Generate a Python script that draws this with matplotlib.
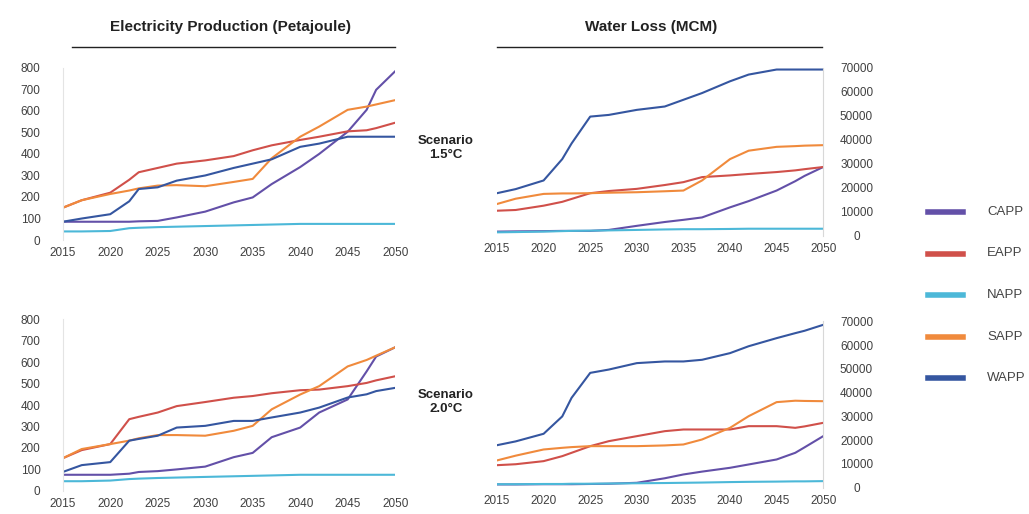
import matplotlib
matplotlib.use('Agg')
import matplotlib.pyplot as plt
from matplotlib.lines import Line2D

plt.rcParams['font.family'] = ['Liberation Sans', 'DejaVu Sans']

# x positions (years) of the read-off points
yrs = [2015, 2017, 2020, 2022, 2023, 2025, 2027, 2030, 2033, 2035, 2037,
       2040, 2042, 2045, 2047, 2048, 2050]

# electricity production, scenario 1.5C (PJ)
elec15_capp = [85, 85, 85, 85, 87, 89, 105, 132, 175, 198, 260, 339, 400, 503, 605, 698, 784]
elec15_eapp = [150, 185, 220, 280, 315, 335, 355, 370, 390, 417, 440, 465, 480, 505, 510, 520, 545]
elec15_napp = [40, 40, 42, 55, 57, 60, 62, 65, 68, 70, 72, 75, 75, 75, 75, 75, 75]
elec15_sapp = [150, 185, 214, 230, 240, 253, 255, 250, 270, 284, 380, 480, 527, 605, 620, 630, 650]
elec15_wapp = [85, 100, 120, 180, 237, 245, 276, 300, 335, 355, 375, 433, 448, 480, 480, 480, 480]

# electricity production, scenario 2.0C (PJ)
elec20_capp = [75, 75, 75, 80, 88, 92, 100, 113, 157, 177, 250, 295, 365, 426, 557, 626, 669]
elec20_eapp = [152, 190, 218, 334, 345, 365, 395, 414, 434, 442, 455, 469, 472, 488, 503, 515, 534]
elec20_napp = [45, 45, 48, 55, 57, 60, 62, 65, 68, 70, 72, 75, 75, 75, 75, 75, 75]
elec20_sapp = [152, 195, 218, 234, 245, 260, 260, 257, 280, 303, 380, 449, 488, 580, 610, 630, 669]
elec20_wapp = [88, 120, 134, 234, 242, 257, 295, 303, 326, 326, 342, 365, 388, 435, 450, 465, 480]

# water loss, scenario 1.5C (MCM)
wl15_capp = [1800, 1900, 2000, 2100, 2100, 2100, 2500, 4200, 5800, 6700, 7700, 11900, 14500, 18900, 22800, 25000, 28700]
wl15_eapp = [10500, 10800, 12600, 14200, 15400, 17800, 18700, 19600, 21200, 22400, 24500, 25200, 25800, 26600, 27300, 27800, 28700]
wl15_napp = [1500, 1600, 1800, 2000, 2100, 2200, 2300, 2500, 2700, 2800, 2800, 2900, 3000, 3000, 3000, 3000, 3000]
wl15_sapp = [13300, 15500, 17500, 17700, 17700, 17800, 18000, 18200, 18600, 18900, 23100, 32000, 35500, 37100, 37400, 37600, 37800]
wl15_wapp = [17800, 19500, 23100, 32000, 38500, 49700, 50400, 52500, 53900, 56700, 59500, 64400, 67200, 69300, 69300, 69300, 69300]

# water loss, scenario 2.0C (MCM)
wl20_capp = [1400, 1400, 1500, 1500, 1500, 1600, 1700, 2100, 4000, 5600, 6800, 8400, 9800, 11900, 14700, 17000, 21700]
wl20_eapp = [9500, 9900, 11200, 13300, 14700, 17500, 19600, 21700, 23800, 24500, 24500, 24500, 25900, 25900, 25200, 25800, 27300]
wl20_napp = [1500, 1500, 1600, 1600, 1700, 1700, 1800, 1900, 2000, 2100, 2200, 2400, 2500, 2600, 2700, 2700, 2800]
wl20_sapp = [11500, 13500, 16100, 16800, 17100, 17500, 17500, 17500, 17800, 18200, 20300, 25200, 30100, 36000, 36600, 36500, 36400]
wl20_wapp = [17900, 19500, 22700, 30000, 37800, 48300, 49700, 52400, 53100, 53100, 53800, 56600, 59500, 62900, 65000, 66000, 68500]

pools = ['CAPP', 'EAPP', 'NAPP', 'SAPP', 'WAPP']
colors = {'CAPP': '#6350a8', 'EAPP': '#d0504a', 'NAPP': '#4cb8d8',
          'SAPP': '#f08a3c', 'WAPP': '#3556a0'}

elec_ticks = [0, 100, 200, 300, 400, 500, 600, 700, 800]
wl_ticks = [0, 10000, 20000, 30000, 40000, 50000, 60000, 70000]
year_ticks = [2015, 2020, 2025, 2030, 2035, 2040, 2045, 2050]

fig = plt.figure(figsize=(10.29, 5.14), dpi=100)

panels = [
    ([0.061, 0.533, 0.323, 0.335], [elec15_capp, elec15_eapp, elec15_napp, elec15_sapp, elec15_wapp], 'elec'),
    ([0.483, 0.541, 0.317, 0.327], [wl15_capp, wl15_eapp, wl15_napp, wl15_sapp, wl15_wapp], 'wl'),
    ([0.061, 0.045, 0.323, 0.334], [elec20_capp, elec20_eapp, elec20_napp, elec20_sapp, elec20_wapp], 'elec'),
    ([0.483, 0.051, 0.317, 0.324], [wl20_capp, wl20_eapp, wl20_napp, wl20_sapp, wl20_wapp], 'wl'),
]

gray = '#404040'
for rect, series, kind in panels:
    ax = fig.add_axes(rect)
    for name, vals in zip(pools, series):
        ax.plot(yrs, vals, color=colors[name], lw=1.5)
    ax.set_xlim(2015, 2050)
    ax.set_xticks(year_ticks)
    ax.set_xticklabels([str(y) for y in year_ticks], fontsize=8.5, color=gray)
    for s in ['top', 'bottom']:
        ax.spines[s].set_visible(False)
    if kind == 'elec':
        ax.set_ylim(0, 800)
        ax.set_yticks(elec_ticks)
        ax.set_yticklabels([str(t) for t in elec_ticks], fontsize=8.5, color=gray)
        ax.tick_params(axis='y', pad=16)
        ax.spines['right'].set_visible(False)
        ax.spines['left'].set_color('#e4e4e4')
    else:
        ax.set_ylim(0, 70000)
        ax.yaxis.tick_right()
        ax.set_yticks(wl_ticks)
        ax.set_yticklabels([str(t) for t in wl_ticks], fontsize=8.5, color=gray, ha='center')
        ax.tick_params(axis='y', pad=24)
        ax.spines['left'].set_visible(False)
        ax.spines['right'].set_color('#d8d8d8')
    ax.tick_params(length=0)
    ax.tick_params(axis='x', pad=5)

# column headers with rule underneath
fig.text(230 / 1029, 1 - 27 / 514, 'Electricity Production (Petajoule)', ha='center', va='center',
         fontsize=11, fontweight='bold', color='#222222')
fig.add_artist(Line2D([72 / 1029, 395 / 1029], [1 - 47 / 514] * 2, color='#222222', lw=1))
fig.text(651 / 1029, 1 - 27 / 514, 'Water Loss (MCM)', ha='center', va='center',
         fontsize=11, fontweight='bold', color='#222222')
fig.add_artist(Line2D([497 / 1029, 822 / 1029], [1 - 47 / 514] * 2, color='#222222', lw=1))

# scenario labels
fig.text(446 / 1029, 1 - 148 / 514, 'Scenario\n1.5\u00b0C', ha='center', va='center',
         fontsize=9.5, fontweight='bold', color='#222222', linespacing=1.25)
fig.text(446 / 1029, 1 - 402 / 514, 'Scenario\n2.0\u00b0C', ha='center', va='center',
         fontsize=9.5, fontweight='bold', color='#222222', linespacing=1.25)

# legend
for i, name in enumerate(pools):
    y = 1 - (212 + i * 41.5) / 514
    fig.add_artist(Line2D([928 / 1029, 963 / 1029], [y, y], color=colors[name], lw=4))
    fig.text(987 / 1029, y, name, ha='left', va='center', fontsize=9.5, color='#444444')

fig.savefig('out.png', dpi=100)
